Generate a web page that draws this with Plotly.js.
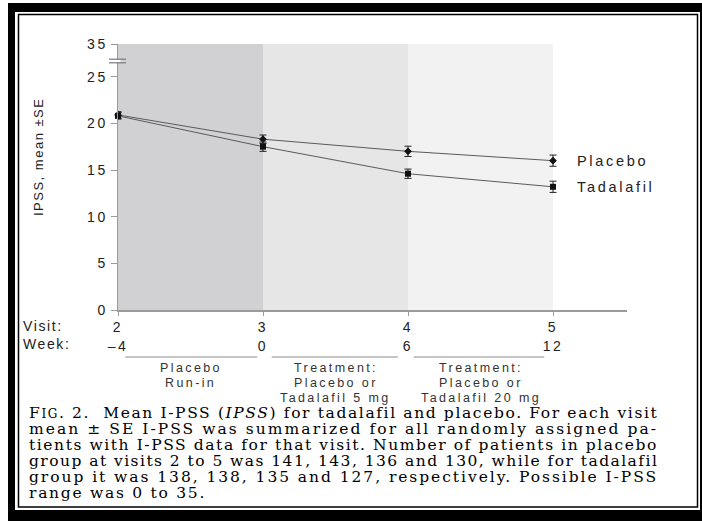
<!DOCTYPE html>
<html>
<head>
<meta charset="utf-8">
<script src="https://cdn.plot.ly/plotly-3.0.1.min.js"></script>
<style>
  html, body { margin: 0; padding: 0; background: #ffffff; }
  #chart { width: 702px; height: 521px; }
</style>
</head>
<body>
<div id="chart"></div>
<script>
// ---------------- data ----------------
const visits = [2, 3, 4, 5];
const visitLabels = ['2', '3', '4', '5'];
const weekLabels = ['\u2013' + '4', '0', '6', '12'];
const seriesNames = ['Placebo', 'Tadalafil'];
const placeboMean = [20.9, 18.3, 17.0, 16.0];
const placeboSE = [0.35, 0.45, 0.55, 0.6];
const tadalafilMean = [20.8, 17.5, 14.6, 13.2];
const tadalafilSE = [0.35, 0.5, 0.5, 0.6];
const yTickVals = [0, 5, 10, 15, 20, 25];
const yTickLabels = ['0', '5', '10', '15', '20', '25'];
const yBreakTopLabel = '35';
const yTitle = 'IPSS, mean \u00b1SE';
const rowLabels = ['Visit:', 'Week:'];
const periodLabels = [
  ['Placebo', 'Run-in'],
  ['Treatment:', 'Placebo or', 'Tadalafil 5 mg'],
  ['Treatment:', 'Placebo or', 'Tadalafil 20 mg']
];
const captionLines = [
  [['r', 'F'], ['sc', 'IG'], ['r', '. 2.\u00a0 Mean I-PSS ('], ['i', 'IPSS'], ['r', ') for tadalafil and placebo. For each visit']],
  [['r', 'mean \u00b1 SE I-PSS was summarized for all randomly assigned pa-']],
  [['r', 'tients with I-PSS data for that visit. Number of patients in placebo']],
  [['r', 'group at visits 2 to 5 was 141, 143, 136 and 130, while for tadalafil']],
  [['r', 'group it was 138, 138, 135 and 127, respectively. Possible I-PSS']],
  [['r', 'range was 0 to 35.']]
];

// ---------------- layout helpers ----------------
const W = 702, H = 521;
const X0 = 118, X1 = 627, Y0 = 310, Y1 = 44;      // plot area in pixels
const AXIS_TOP = 28.5;                             // compressed top of broken axis
const X_RANGE = [2, 2 + (X1 - X0) / 145];
const pxX = x => (x - X0) / (X1 - X0);
const pxY = y => (Y0 - y) / (Y0 - Y1);
const SANS = 'Liberation Sans, Arial, sans-serif';
const SERIF = 'DejaVu Serif, serif';
const sp = (t, ls) => t.split('<br>').map(s => '<span style="letter-spacing:' + ls + 'px">' + s + '</span>').join('<br>');

// ---------------- traces ----------------
const series = [
  { name: seriesNames[0], y: placeboMean, se: placeboSE, sym: 'diamond', size: 6 },
  { name: seriesNames[1], y: tadalafilMean, se: tadalafilSE, sym: 'square', size: 6 }
];
const traces = series.map(s => ({
  type: 'scatter', mode: 'lines+markers', name: s.name,
  x: visits, y: s.y,
  line: { color: '#5a5a5a', width: 1 },
  marker: { symbol: s.sym, size: s.size, color: '#111111' },
  error_y: { type: 'data', array: s.se, visible: true, color: '#222222', thickness: 1, width: 3.5 },
  hoverinfo: 'skip', cliponaxis: false
}));

// ---------------- shapes ----------------
const shades = ['#d1d1d3', '#e6e6e7', '#f2f2f2'];
const shapes = [];
for (let i = 0; i < visits.length - 1; i++) {
  shapes.push({ type: 'rect', layer: 'below', xref: 'x', yref: 'paper',
    x0: visits[i], x1: visits[i + 1], y0: 0, y1: 1, fillcolor: shades[i], line: { width: 0 } });
}
// period brackets under the axis
const bracketInset = [[0.05, 0.04], [0.06, 0.07], [0.04, 0.06]];
for (let i = 0; i < visits.length - 1; i++) {
  shapes.push({ type: 'line', xref: 'x', yref: 'paper',
    x0: visits[i] + bracketInset[i][0], x1: visits[i + 1] - bracketInset[i][1],
    y0: pxY(357), y1: pxY(357), line: { color: '#8c8c8c', width: 1 } });
}
// axis break mark
shapes.push({ type: 'rect', xref: 'paper', yref: 'paper', layer: 'above',
  x0: pxX(115.5), x1: pxX(120.5), y0: pxY(62.5), y1: pxY(59.5), fillcolor: '#ffffff', line: { width: 0 } });
[59.2, 62.8].forEach(yy => shapes.push({ type: 'line', xref: 'paper', yref: 'paper', layer: 'above',
  x0: pxX(109), x1: pxX(126), y0: pxY(yy), y1: pxY(yy), line: { color: '#777777', width: 1.2 } }));
// page frame
[[8, 15, 3, 521], [8, 702, 3, 12], [700, 702, 3, 521], [8, 702, 510, 521]].forEach(r =>
  shapes.push({ type: 'rect', xref: 'paper', yref: 'paper', layer: 'above',
    x0: pxX(r[0]), x1: pxX(r[1]), y0: pxY(r[3]), y1: pxY(r[2]), fillcolor: '#000000', line: { width: 0 } }));
shapes.push({ type: 'rect', xref: 'paper', yref: 'paper', layer: 'above',
  x0: pxX(18.5), x1: pxX(697.5), y0: pxY(507), y1: pxY(14.5), fillcolor: 'rgba(0,0,0,0)',
  line: { color: '#000000', width: 1.5 } });

// ---------------- annotations ----------------
const annotations = [];
// series labels at last points
series.forEach(s => annotations.push({
  xref: 'x', yref: 'y', x: visits[visits.length - 1], y: s.y[s.y.length - 1],
  xanchor: 'left', yanchor: 'middle', xshift: 22, showarrow: false,
  text: sp(s.name, 2.7), font: { family: SANS, size: 14.5, color: '#222222' }
}));
// y title
annotations.push({ xref: 'paper', yref: 'paper', x: pxX(38), y: pxY(157), showarrow: false,
  textangle: -90, xanchor: 'center', yanchor: 'middle',
  text: sp(yTitle, 1.5), font: { family: SANS, size: 13, color: '#222222' } });
// Visit / Week row labels
annotations.push({ xref: 'paper', yref: 'paper', x: pxX(21), y: pxY(316), showarrow: false,
  xanchor: 'left', yanchor: 'top', align: 'left',
  text: sp(rowLabels.join('<br>'), 1.6), font: { family: SANS, size: 14, color: '#222222' } });
// period descriptions, one annotation per line
const PERIOD_TOP = 367.5, PERIOD_STEP = 15;
periodLabels.forEach((lines, i) => lines.forEach((ln, j) => annotations.push({
  xref: 'x', yref: 'paper', x: (visits[i] + visits[i + 1]) / 2, y: pxY(PERIOD_TOP + j * PERIOD_STEP),
  showarrow: false, xanchor: 'center', yanchor: 'middle', align: 'center',
  text: sp(ln, 2.4), font: { family: SANS, size: 12.5, color: '#333333' }
})));
// caption, justified by per-line letter spacing
const CAP_SIZE = 15.5, CAP_SC = 12, CAP_LEFT = 27, CAP_WIDTH = 629, CAP_TOP = 413, CAP_STEP = 16;
const CAP_WEIGHT = 'normal';
const ctx = document.createElement('canvas').getContext('2d');
const fontFor = k => (k === 'i' ? 'italic ' : '') + CAP_WEIGHT + ' ' + (k === 'sc' ? CAP_SC : CAP_SIZE) + 'px "DejaVu Serif"';
const measured = captionLines.map(parts => {
  let w = 0, n = 0;
  parts.forEach(([k, t]) => { ctx.font = fontFor(k); w += ctx.measureText(t).width; n += t.length; });
  return { w, n };
});
const spacings = measured.map(m => (CAP_WIDTH - m.w) / m.n);
const avgLs = spacings.slice(0, -1).reduce((a, b) => a + b, 0) / (spacings.length - 1);
captionLines.forEach((parts, i) => {
  const ls = i === captionLines.length - 1 ? avgLs : spacings[i];
  const inner = parts.map(([k, t]) => k === 'i' ? '<i>' + t + '</i>'
    : k === 'sc' ? '<span style="font-size:' + CAP_SC + 'px">' + t + '</span>' : t).join('');
  annotations.push({ xref: 'paper', yref: 'paper', x: pxX(CAP_LEFT), y: pxY(CAP_TOP + i * CAP_STEP),
    xanchor: 'left', yanchor: 'middle', showarrow: false, align: 'left',
    text: '<span style="letter-spacing:' + ls.toFixed(3) + 'px">' + inner + '</span>',
    font: { family: SERIF, size: CAP_SIZE, color: '#000000', weight: CAP_WEIGHT } });
});

// ---------------- layout ----------------
const layout = {
  width: W, height: H,
  margin: { l: X0, r: W - X1, t: Y1, b: H - Y0, pad: 0 },
  paper_bgcolor: '#ffffff', plot_bgcolor: '#ffffff',
  showlegend: false,
  font: { family: SANS, size: 14, color: '#222222' },
  xaxis: {
    range: X_RANGE, showgrid: false, zeroline: false, showline: true,
    linecolor: '#9a9a9a', linewidth: 1.5, ticks: 'outside', ticklen: 4, tickcolor: '#9a9a9a',
    tickvals: visits,
    ticktext: visits.map((v, i) => sp(visitLabels[i] + '<br>' + weekLabels[i], 2.5)),
    tickfont: { family: SANS, size: 14, color: '#222222' }, ticklabelstandoff: 0,
    fixedrange: true
  },
  yaxis: {
    range: [0, AXIS_TOP], showgrid: false, zeroline: false, showline: true,
    linecolor: '#9a9a9a', linewidth: 1.5, ticks: 'outside', ticklen: 6, tickcolor: '#9a9a9a',
    tickvals: yTickVals.concat([AXIS_TOP]),
    ticktext: yTickLabels.concat([yBreakTopLabel]).map(t => sp(t, 2.5)),
    tickfont: { family: SANS, size: 14, color: '#222222' },
    fixedrange: true
  },
  shapes: shapes,
  annotations: annotations
};

Plotly.newPlot('chart', traces, layout, { displayModeBar: false, staticPlot: true });
</script>
</body>
</html>
